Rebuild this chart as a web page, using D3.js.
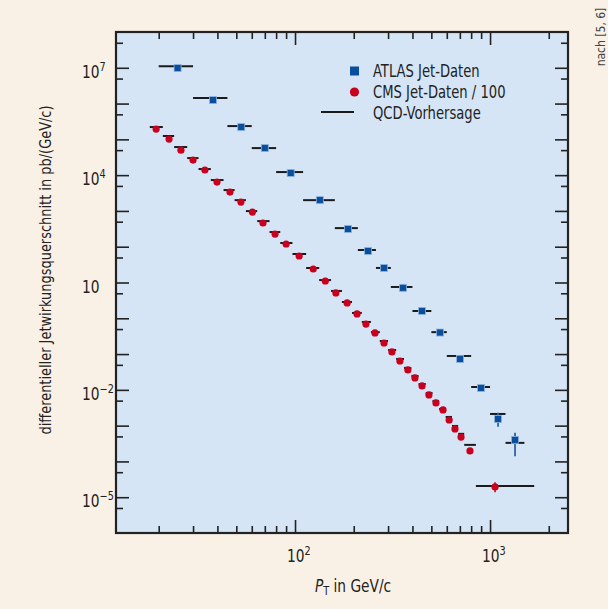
<!DOCTYPE html>
<html>
<head>
<meta charset="utf-8">
<script src="https://cdn.jsdelivr.net/npm/d3@7"></script>
<style>
  body { margin: 0; background: #faf1e6; }
  svg { display: block; font-family: "Liberation Sans Narrow", "DejaVu Sans Condensed", sans-serif; }
</style>
</head>
<body>
<div id="chart"></div>
<script>
// ATLAS inclusive jets: bin edges, bin centre, measured value, QCD prediction (pb/(GeV/c))
var atlasEdges = [20, 30, 45, 60, 80, 110, 160, 210, 260, 310, 400, 500, 600, 800, 1000, 1200, 1500];
var atlasPt = [25, 38, 53, 70, 95, 134, 187, 237, 286, 358, 448, 554, 702, 899, 1099, 1343];
var atlasValues = [9.8e6, 1.25e6, 2.2e5, 5.7e4, 1.15e4, 2.0e3, 314, 76, 25.5, 7.1, 1.6, 0.4, 0.073, 0.0113, 1.54e-3, 4.0e-4];
var atlasQcd = [1.11e7, 1.43e6, 2.35e5, 5.7e4, 1.22e4, 2.0e3, 331, 81, 25.5, 7.5, 1.6, 0.41, 0.0885, 0.012, 2.12e-3, 3.3e-4];
var atlasErrHi = [null, null, null, null, null, null, null, null, null, null, null, null, null, null, 2.3e-3, 6.3e-4];
var atlasErrLo = [null, null, null, null, null, null, null, null, null, null, null, null, null, null, 9.3e-4, 1.4e-4];

// CMS inclusive jets (raw values, shown divided by 100)
var cmsEdges = [18, 21, 24, 28, 32, 37, 43, 49, 56, 64, 74, 84, 97, 114, 133, 153, 174, 196, 220, 245, 272, 300,
  330, 362, 395, 430, 468, 507, 548, 592, 638, 686, 737, 846, 1684];
var cmsPt = [19.4, 22.6, 26, 30, 34.5, 39.8, 46.4, 52.8, 60.5, 68.5, 79, 90, 105, 124, 143, 162, 185, 208, 231, 257,
  286, 314, 345, 379, 412, 448, 486, 528, 574, 617, 661, 710, 789, 1061];
var cmsValues = [1.94e7, 1.02e7, 5.0e6, 2.64e6, 1.39e6, 6.4e5, 3.37e5, 1.77e5, 9.3e4, 4.6e4, 2.26e4, 1.19e4, 5.5e3,
  2.38e3, 1.10e3, 510, 268, 132, 69, 39, 20.4, 11.5, 6.4, 3.6, 2.15, 1.29, 0.72, 0.43, 0.275, 0.144, 0.081, 0.048,
  0.0196, 1.94e-3];
var cmsQcd = [2.21e7, 1.24e7, 6.1e6, 3.0e6, 1.48e6, 7.3e5, 3.83e5, 2.0e5, 9.9e4, 5.2e4, 2.57e4, 1.27e4, 6.25e3,
  2.54e3, 1.17e3, 580, 285, 141, 79, 41, 23.2, 13, 7.3, 4.1, 2.45, 1.46, 0.82, 0.49, 0.292, 0.175, 0.098, 0.059,
  0.029, 2.07e-3];
var cmsErrHi = [null, null, null, null, null, null, null, null, null, null, null, null, null, null, null, null, null,
  null, null, null, null, null, null, null, null, null, null, null, null, null, null, null, 0.023, 2.6e-3];
var cmsErrLo = [null, null, null, null, null, null, null, null, null, null, null, null, null, null, null, null, null,
  null, null, null, null, null, null, null, null, null, null, null, null, null, null, null, 0.0165, 1.38e-3];
var cmsScale = 100;

var xMajor = [100, 1000];
var xMinor = [20, 30, 40, 50, 60, 70, 80, 90, 200, 300, 400, 500, 600, 700, 800, 900, 2000];
var yMajor = d3.range(-5, 8).map(e => Math.pow(10, e));
var yMinor = d3.range(-6, 8).map(e => 5 * Math.pow(10, e));
var yLabels = [1e7, 1e4, 10, 1e-2, 1e-5];

var svgWidth = 608;
var svgHeight = 609;
var margin = { top: 32, right: 40, bottom: 76, left: 116 };
var width = svgWidth - margin.left - margin.right;
var height = svgHeight - margin.top - margin.bottom;

var svg = d3.select("#chart").append("svg")
  .attr("width", svgWidth)
  .attr("height", svgHeight);

var chartGroup = svg.append("g")
  .attr("transform", `translate(${margin.left}, ${margin.top})`);

var x = d3.scaleLog().domain([12.08, 2510]).range([0, width]);
var y = d3.scaleLog().domain([1e-6, 1e8]).range([height, 0]);

chartGroup.append("rect")
  .attr("width", width)
  .attr("height", height)
  .attr("fill", "#d5e5f5");

var ink = "#222";

function tickAxis(axis, tr) {
  var g = chartGroup.append("g").attr("transform", tr).call(axis);
  g.select(".domain").remove();
  g.selectAll("line").attr("stroke", ink).attr("stroke-width", 1.6);
  g.selectAll("text").remove();
  return g;
}

tickAxis(d3.axisBottom(x).tickValues(xMajor).tickSize(-13), `translate(0,${height})`);
tickAxis(d3.axisBottom(x).tickValues(xMinor).tickSize(-7), `translate(0,${height})`);
tickAxis(d3.axisTop(x).tickValues(xMajor).tickSize(-13), "translate(0,0)");
tickAxis(d3.axisTop(x).tickValues(xMinor).tickSize(-7), "translate(0,0)");
tickAxis(d3.axisLeft(y).tickValues(yMajor).tickSize(-13), "translate(0,0)");
tickAxis(d3.axisLeft(y).tickValues(yMinor).tickSize(-7), "translate(0,0)");
tickAxis(d3.axisRight(y).tickValues(yMajor).tickSize(-13), `translate(${width},0)`);
tickAxis(d3.axisRight(y).tickValues(yMinor).tickSize(-7), `translate(${width},0)`);

function powLabel(sel, v) {
  var e = Math.round(Math.log10(v));
  sel.append("tspan").text("10");
  if (e !== 1) {
    sel.append("tspan")
      .attr("font-size", 12)
      .attr("dy", -7)
      .text(e < 0 ? "\u2212" + (-e) : e);
  }
}

xMajor.forEach(function(v) {
  var t = chartGroup.append("text")
    .attr("transform", `translate(${x(v) - 8},${height + 29}) scale(0.9,1)`)
    .attr("font-size", 17)
    .attr("fill", ink);
  powLabel(t, v);
});

yLabels.forEach(function(v) {
  var t = chartGroup.append("text")
    .attr("transform", `translate(-34,${y(v) + 10}) scale(0.9,1)`)
    .attr("font-size", 17)
    .attr("fill", ink);
  powLabel(t, v);
});

chartGroup.append("rect")
  .attr("width", width)
  .attr("height", height)
  .attr("fill", "none")
  .attr("stroke", ink)
  .attr("stroke-width", 2.2);

// QCD prediction bars
var atlasData = atlasPt.map((p, i) => ({
  pt: p, v: atlasValues[i], qcd: atlasQcd[i], lo: atlasEdges[i], hi: atlasEdges[i + 1],
  eHi: atlasErrHi[i], eLo: atlasErrLo[i]
}));
var cmsData = cmsPt.map((p, i) => ({
  pt: p, v: cmsValues[i] / cmsScale, qcd: cmsQcd[i] / cmsScale, lo: cmsEdges[i], hi: cmsEdges[i + 1],
  eHi: cmsErrHi[i] === null ? null : cmsErrHi[i] / cmsScale,
  eLo: cmsErrLo[i] === null ? null : cmsErrLo[i] / cmsScale
}));

chartGroup.selectAll(".qcd-atlas")
  .data(atlasData)
  .enter()
  .append("line")
  .attr("x1", d => x(d.lo))
  .attr("x2", d => x(d.hi))
  .attr("y1", d => y(d.qcd))
  .attr("y2", d => y(d.qcd))
  .attr("stroke", "#1b1b1b")
  .attr("stroke-width", 2);

chartGroup.selectAll(".qcd-cms")
  .data(cmsData)
  .enter()
  .append("line")
  .attr("x1", d => x(d.lo))
  .attr("x2", d => x(d.hi))
  .attr("y1", d => y(d.qcd))
  .attr("y2", d => y(d.qcd))
  .attr("stroke", "#1b1b1b")
  .attr("stroke-width", 2);

// error bars
chartGroup.selectAll(".err-atlas")
  .data(atlasData.filter(d => d.eHi !== null))
  .enter()
  .append("line")
  .attr("x1", d => x(d.pt))
  .attr("x2", d => x(d.pt))
  .attr("y1", d => y(d.eHi))
  .attr("y2", d => y(d.eLo))
  .attr("stroke", "#2f63ad")
  .attr("stroke-width", 1.8);

chartGroup.selectAll(".err-cms")
  .data(cmsData.filter(d => d.eHi !== null))
  .enter()
  .append("line")
  .attr("x1", d => x(d.pt))
  .attr("x2", d => x(d.pt))
  .attr("y1", d => y(d.eHi))
  .attr("y2", d => y(d.eLo))
  .attr("stroke", "#d0203a")
  .attr("stroke-width", 1.8);

chartGroup.selectAll(".atlas")
  .data(atlasData)
  .enter()
  .append("rect")
  .attr("x", d => x(d.pt) - 3.5)
  .attr("y", d => y(d.v) - 3.5)
  .attr("width", 7)
  .attr("height", 7)
  .attr("fill", "#0a4f9e")
  .attr("stroke", "#8fb4de")
  .attr("stroke-width", 0.8);

chartGroup.selectAll(".cms")
  .data(cmsData)
  .enter()
  .append("circle")
  .attr("cx", d => x(d.pt))
  .attr("cy", d => y(d.v))
  .attr("r", 3.6)
  .attr("fill", "#c8001e");

// legend
var legend = svg.append("g").attr("font-size", 17).attr("fill", ink);
legend.append("rect").attr("x", 350).attr("y", 66.5).attr("width", 9).attr("height", 9).attr("fill", "#0a4f9e");
legend.append("circle").attr("cx", 354.5).attr("cy", 92).attr("r", 4.6).attr("fill", "#c8001e");
legend.append("line").attr("x1", 321).attr("x2", 354).attr("y1", 112).attr("y2", 112)
  .attr("stroke", "#1b1b1b").attr("stroke-width", 2);
legend.append("text").attr("transform", "translate(373,77) scale(0.86,1)").text("ATLAS Jet-Daten");
legend.append("text").attr("transform", "translate(373,98) scale(0.86,1)").text("CMS Jet-Daten / 100");
legend.append("text").attr("transform", "translate(373,119) scale(0.86,1)").text("QCD-Vorhersage");

// axis titles
svg.append("text")
  .attr("transform", "translate(51, 270) rotate(-90) scale(0.9,1)")
  .attr("text-anchor", "middle")
  .attr("font-size", 16)
  .attr("fill", ink)
  .text("differentieller Jetwirkungsquerschnitt in pb/(GeV/c)");

var xTitle = svg.append("text")
  .attr("transform", "translate(353,592) scale(0.9,1)")
  .attr("text-anchor", "middle")
  .attr("font-size", 17)
  .attr("fill", ink);
xTitle.append("tspan").attr("font-style", "italic").text("P");
xTitle.append("tspan").attr("font-size", 12).attr("dy", 3).text("T");
xTitle.append("tspan").attr("dy", -3).text(" in GeV/c");

svg.append("text")
  .attr("transform", "translate(605, 37) rotate(-90)")
  .attr("text-anchor", "middle")
  .attr("font-size", 12)
  .attr("fill", "#444")
  .text("nach [5, 6]");
</script>
</body>
</html>
